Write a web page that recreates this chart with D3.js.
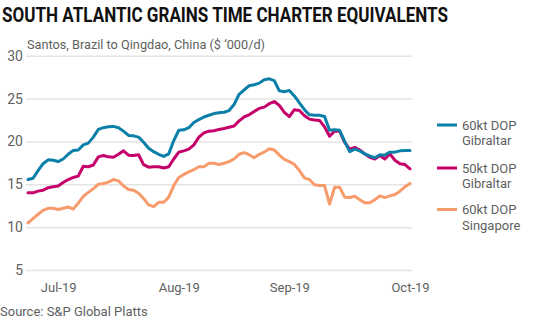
<!DOCTYPE html>
<html><head><meta charset="utf-8">
<script src="https://cdn.jsdelivr.net/npm/d3@7"></script>
<style>body{margin:0;background:#fff}svg{display:block}text{font-family:Roboto,"Noto Sans",sans-serif}</style>
</head><body><svg id="c" width="560" height="323"></svg>
<script>
const title = "SOUTH ATLANTIC GRAINS TIME CHARTER EQUIVALENTS";
const subtitle = "Santos, Brazil to Qingdao, China ($ \u2018000/d)";
const source = "Source: S&P Global Platts";
const yTicks = [5, 10, 15, 20, 25, 30];
const xTickIndex = [6, 30, 52, 76];
const xTickLabels = ["Jul-19", "Aug-19", "Sep-19", "Oct-19"];
const seriesNames = [["60kt DOP", "Gibraltar"], ["50kt DOP", "Gibraltar"], ["60kt DOP", "Singapore"]];
const seriesColors = ["#0a7fa8", "#c5006a", "#f89b6c"];
const gib60 = [15.55,15.7,16.6,17.4,17.85,17.8,17.65,17.95,18.5,18.95,19.0,19.6,19.8,20.5,21.4,21.6,21.7,21.75,21.6,21.2,20.7,20.65,20.5,19.9,19.2,18.8,18.5,18.25,18.55,20.1,21.3,21.35,21.6,22.2,22.55,22.85,23.05,23.25,23.35,23.4,23.6,24.3,25.5,26.0,26.5,26.6,26.8,27.2,27.3,27.1,25.9,25.8,25.95,25.3,24.5,23.7,23.1,23.05,23.05,22.9,21.3,21.35,21.3,20.0,18.8,19.1,18.9,18.55,18.3,18.1,18.45,18.4,18.75,18.75,18.9,18.95,18.95];
const gib50 = [14.0,14.0,14.2,14.3,14.6,14.7,14.8,15.2,15.55,15.8,15.95,17.1,17.05,17.25,18.2,18.35,18.2,18.15,18.5,18.9,18.4,18.35,18.45,17.3,17.0,17.05,17.05,16.9,17.05,17.95,18.75,18.9,19.1,19.6,20.5,21.0,21.2,21.25,21.4,21.5,21.65,21.8,22.4,22.85,23.1,23.5,23.85,24.0,24.4,24.65,24.2,23.4,22.9,23.7,23.6,23.0,22.6,22.5,22.45,21.7,20.6,21.2,21.2,19.9,19.1,19.3,19.0,18.55,18.15,17.95,18.35,17.95,18.55,17.8,17.4,17.3,16.8];
const sing60 = [10.5,11.0,11.5,11.95,12.2,12.2,12.05,12.2,12.35,12.1,12.8,13.6,14.05,14.5,15.0,15.1,15.25,15.55,15.4,14.8,14.4,14.3,13.95,13.35,12.6,12.4,12.9,12.9,13.5,14.85,15.8,16.15,16.45,16.7,17.05,17.05,17.45,17.45,17.3,17.45,17.65,17.95,18.5,18.7,18.45,18.1,18.5,18.75,19.15,19.0,18.4,17.9,17.65,17.3,16.6,15.75,15.55,14.95,14.85,14.85,12.7,14.65,14.65,13.5,13.45,13.6,13.2,12.85,12.85,13.2,13.65,13.45,13.65,13.8,14.2,14.7,15.1];
const series = [gib60, gib50, sing60];

const svg = d3.select("#c");
const x = d3.scaleLinear().domain([0, gib60.length - 1]).range([28, 410]);
const y = d3.scaleLinear().domain([5, 30]).range([270, 55.7]);
const gray = "#5e5f61";

svg.append("text").attr("x", 2).attr("y", 22).attr("font-size", 21).attr("font-weight", 700)
  .attr("fill", "#111").attr("textLength", 446).attr("lengthAdjust", "spacingAndGlyphs").text(title);
svg.append("text").attr("x", 27).attr("y", 49).attr("font-size", 13).attr("fill", gray)
  .attr("textLength", 238).attr("lengthAdjust", "spacingAndGlyphs").text(subtitle);

const gy = svg.append("g").attr("transform", "translate(412,0)");
gy.call(d3.axisLeft(y).tickValues(yTicks).tickSize(386).tickFormat(""));
gy.select(".domain").remove();
gy.selectAll(".tick line").attr("stroke", "#e4e4e4").attr("stroke-width", 1.5);
const gyl = svg.append("g").attr("transform", "translate(26,0)");
gyl.call(d3.axisLeft(y).tickValues(yTicks).tickSize(0).tickPadding(3));
gyl.select(".domain").remove();
gyl.selectAll(".tick text").attr("font-size", 14).attr("fill", gray).attr("font-family", "Roboto");

const gx = svg.append("g").attr("transform", "translate(0,280)");
gx.call(d3.axisBottom(x).tickValues(xTickIndex).tickSize(0).tickPadding(0).tickFormat((d, i) => xTickLabels[i]));
gx.select(".domain").remove();
gx.selectAll(".tick text").attr("font-size", 13).attr("fill", gray).attr("font-family", "Roboto").attr("dy", "0.9em");

const line = d3.line().x((d, i) => x(i)).y(d => y(d));
series.slice().reverse().forEach((s, k) => {
  const i = series.length - 1 - k;
  svg.append("path").datum(s).attr("d", line).attr("fill", "none")
    .attr("stroke", seriesColors[i]).attr("stroke-width", 3).attr("stroke-linejoin", "round").attr("stroke-linecap", "round");
});

const legY = [125, 168, 209.5];
seriesNames.forEach((n, i) => {
  svg.append("line").attr("x1", 437).attr("x2", 457).attr("y1", legY[i]).attr("y2", legY[i])
    .attr("stroke", seriesColors[i]).attr("stroke-width", 3);
  const t = svg.append("text").attr("x", 462).attr("y", legY[i] + 4.5).attr("font-size", 13).attr("fill", gray);
  t.append("tspan").attr("x", 462).text(n[0]);
  t.append("tspan").attr("x", 462).attr("dy", 15.5).text(n[1]);
});

svg.append("text").attr("x", 0).attr("y", 316).attr("font-size", 13).attr("fill", gray).text(source);
</script></body></html>
